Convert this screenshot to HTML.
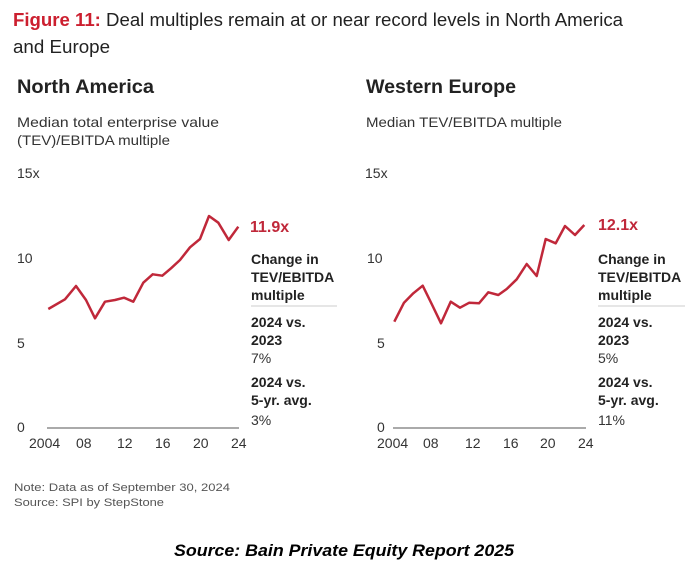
<!DOCTYPE html>
<html><head><meta charset="utf-8"><style>
html,body{margin:0;padding:0;background:#fff;}
svg{display:block;font-family:"Liberation Sans",sans-serif;}
</style></head><body>
<svg width="697" height="571" viewBox="0 0 697 571" xmlns="http://www.w3.org/2000/svg">
<rect width="697" height="571" fill="#fff"/>
<text x="13" y="26" font-size="18" fill="#222" textLength="610" lengthAdjust="spacingAndGlyphs"><tspan fill="#cc1f2f" font-weight="bold">Figure 11:</tspan> Deal multiples remain at or near record levels in North America</text>
<text x="13" y="53" font-size="18" fill="#222" textLength="97" lengthAdjust="spacingAndGlyphs">and Europe</text>
<text x="17" y="93" font-size="19" font-weight="bold" fill="#222" textLength="137" lengthAdjust="spacingAndGlyphs">North America</text>
<text x="366" y="93" font-size="19" font-weight="bold" fill="#222" textLength="150" lengthAdjust="spacingAndGlyphs">Western Europe</text>
<text x="17" y="127" font-size="14" fill="#333" textLength="202" lengthAdjust="spacingAndGlyphs">Median total enterprise value</text>
<text x="17" y="145" font-size="14" fill="#333" textLength="153" lengthAdjust="spacingAndGlyphs">(TEV)/EBITDA multiple</text>
<text x="366" y="127" font-size="14" fill="#333" textLength="196" lengthAdjust="spacingAndGlyphs">Median TEV/EBITDA multiple</text>

<g font-size="14" fill="#333">
<text x="17" y="178">15x</text>
<text x="17" y="263">10</text>
<text x="17" y="348">5</text>
<text x="17" y="432">0</text>
<text x="365" y="178">15x</text>
<text x="367" y="263">10</text>
<text x="377" y="348">5</text>
<text x="377" y="432">0</text>
<text x="29" y="448">2004</text><text x="76" y="448">08</text><text x="117" y="448">12</text><text x="155" y="448">16</text><text x="193" y="448">20</text><text x="231" y="448">24</text>
<text x="377" y="448">2004</text><text x="423" y="448">08</text><text x="465" y="448">12</text><text x="503" y="448">16</text><text x="540" y="448">20</text><text x="578" y="448">24</text>
</g>
<line x1="47" y1="428" x2="239" y2="428" stroke="#555" stroke-width="1"/>
<line x1="393" y1="428" x2="586" y2="428" stroke="#555" stroke-width="1"/>

<polyline fill="none" stroke="#c0283a" stroke-width="2.5" stroke-linejoin="round" points="48.3,309 65,299.3 76,286 86,300 95,318.3 105,301.7 115,300 124,297.7 133.3,301.7 143.3,282.7 152.7,274.3 162.3,275.7 171,268.3 180,260 190,247.3 200,239 209,216 218.3,222.7 228.7,240 238.3,226.7"/>
<polyline fill="none" stroke="#c0283a" stroke-width="2.5" stroke-linejoin="round" points="394.3,321.7 404,302.7 413.3,293.3 422.7,285.7 431.7,304 441,323.3 450.7,301.7 460,307.7 469.3,302.7 479,303.3 488.3,292.3 498.3,295 506.7,289 516.7,279.3 526.7,264 536.7,276 545.7,239 555.7,243.3 565,226 575,235 584.3,225"/>

<text x="250" y="232" font-size="16" font-weight="bold" fill="#c0283a">11.9x</text>
<text x="598" y="230" font-size="16" font-weight="bold" fill="#c0283a">12.1x</text>

<g font-size="14" fill="#222">
<text x="251" y="264" font-weight="bold">Change in</text>
<text x="251" y="282" font-weight="bold">TEV/EBITDA</text>
<text x="251" y="300" font-weight="bold">multiple</text>
<line x1="251" y1="306" x2="337" y2="306" stroke="#ccc"/>
<text x="251" y="327" font-weight="bold">2024 vs.</text>
<text x="251" y="345" font-weight="bold">2023</text>
<text x="251" y="363" fill="#333">7%</text>
<text x="251" y="387" font-weight="bold">2024 vs.</text>
<text x="251" y="405" font-weight="bold">5-yr. avg.</text>
<text x="251" y="425" fill="#333">3%</text>

<text x="598" y="264" font-weight="bold">Change in</text>
<text x="598" y="282" font-weight="bold">TEV/EBITDA</text>
<text x="598" y="300" font-weight="bold">multiple</text>
<line x1="598" y1="306" x2="685" y2="306" stroke="#ccc"/>
<text x="598" y="327" font-weight="bold">2024 vs.</text>
<text x="598" y="345" font-weight="bold">2023</text>
<text x="598" y="363" fill="#333">5%</text>
<text x="598" y="387" font-weight="bold">2024 vs.</text>
<text x="598" y="405" font-weight="bold">5-yr. avg.</text>
<text x="598" y="425" fill="#333">11%</text>
</g>

<text x="14" y="491" font-size="11" fill="#555" textLength="216" lengthAdjust="spacingAndGlyphs">Note: Data as of September 30, 2024</text>
<text x="14" y="506" font-size="11" fill="#555" textLength="150" lengthAdjust="spacingAndGlyphs">Source: SPI by StepStone</text>
<text x="174" y="556" font-size="17" font-weight="bold" font-style="italic" fill="#000" textLength="340" lengthAdjust="spacingAndGlyphs">Source: Bain Private Equity Report 2025</text>
</svg>
</body></html>
